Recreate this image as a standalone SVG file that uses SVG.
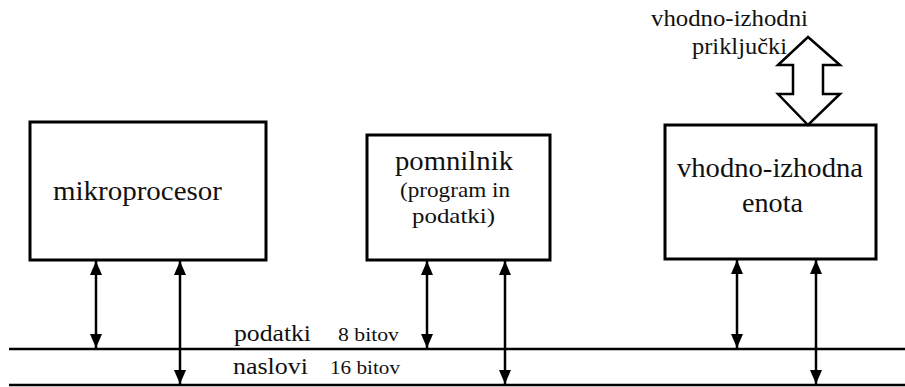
<svg xmlns="http://www.w3.org/2000/svg" width="905" height="387" viewBox="0 0 905 387">
  <style>
    .box { fill: #fff; stroke: #000; stroke-width: 3; }
    .bus { stroke: #000; stroke-width: 2.5; fill: none; }
    .link { stroke: #000; stroke-width: 2.5; fill: none; marker-start: url(#head); marker-end: url(#head); }
  </style>
  <defs>
    <marker id="head" markerUnits="userSpaceOnUse" markerWidth="14" markerHeight="12" refX="14" refY="6" orient="auto-start-reverse">
      <path d="M0,0 L14,6 L0,12 z" fill="#000"/>
    </marker>
  </defs>

  <rect width="905" height="387" fill="#fff"/>

  <!-- data and address bus -->
  <g id="bus" font-family="Liberation Serif" fill="#111">
    <line class="bus" x1="9" y1="349" x2="905" y2="349"/>
    <line class="bus" x1="9" y1="385" x2="905" y2="385"/>
    <text font-size="23" x="234" y="341" textLength="77" lengthAdjust="spacingAndGlyphs">podatki</text>
    <text font-size="19" x="338" y="341" textLength="61" lengthAdjust="spacingAndGlyphs">8 bitov</text>
    <text font-size="23" x="233" y="374" textLength="75" lengthAdjust="spacingAndGlyphs">naslovi</text>
    <text font-size="19" x="330" y="374" textLength="70" lengthAdjust="spacingAndGlyphs">16 bitov</text>
  </g>

  <g id="cpu" font-family="Liberation Serif" fill="#111">
    <rect class="box" x="30" y="122" width="236" height="138"/>
    <text font-size="27" x="53" y="200" textLength="169" lengthAdjust="spacingAndGlyphs">mikroprocesor</text>
  </g>

  <g id="memory" font-family="Liberation Serif" fill="#111">
    <rect class="box" x="367" y="135" width="183" height="125"/>
    <text font-size="27" x="395" y="170" textLength="118" lengthAdjust="spacingAndGlyphs">pomnilnik</text>
    <text font-size="22" x="400" y="197" textLength="110" lengthAdjust="spacingAndGlyphs">(program in</text>
    <text font-size="22" x="412" y="223" textLength="83" lengthAdjust="spacingAndGlyphs">podatki)</text>
  </g>

  <g id="io" font-family="Liberation Serif" fill="#111">
    <rect class="box" x="665" y="125" width="211" height="134"/>
    <text font-size="27" x="677" y="177" textLength="186" lengthAdjust="spacingAndGlyphs">vhodno-izhodna</text>
    <text font-size="27" x="742" y="212" textLength="61" lengthAdjust="spacingAndGlyphs">enota</text>
  </g>

  <g id="ports" font-family="Liberation Serif" fill="#111">
    <text font-size="23" x="651" y="26" textLength="157" lengthAdjust="spacingAndGlyphs">vhodno-izhodni</text>
    <text font-size="23" x="692" y="54" textLength="95" lengthAdjust="spacingAndGlyphs">priključki</text>
    <polygon points="808,37 840,65 823,65 823,94 840,94 808,125 778,94 793,94 793,65 778,65" fill="#fff" stroke="#000" stroke-width="2.5"/>
  </g>

  <!-- connections between units and bus -->
  <g id="connectors">
    <line class="link" x1="96" y1="261" x2="96" y2="348"/>
    <line class="link" x1="180" y1="261" x2="180" y2="384"/>
    <line class="link" x1="427" y1="261" x2="427" y2="348"/>
    <line class="link" x1="505" y1="261" x2="505" y2="384"/>
    <line class="link" x1="737" y1="260" x2="737" y2="348"/>
    <line class="link" x1="816" y1="260" x2="816" y2="384"/>
  </g>
</svg>
